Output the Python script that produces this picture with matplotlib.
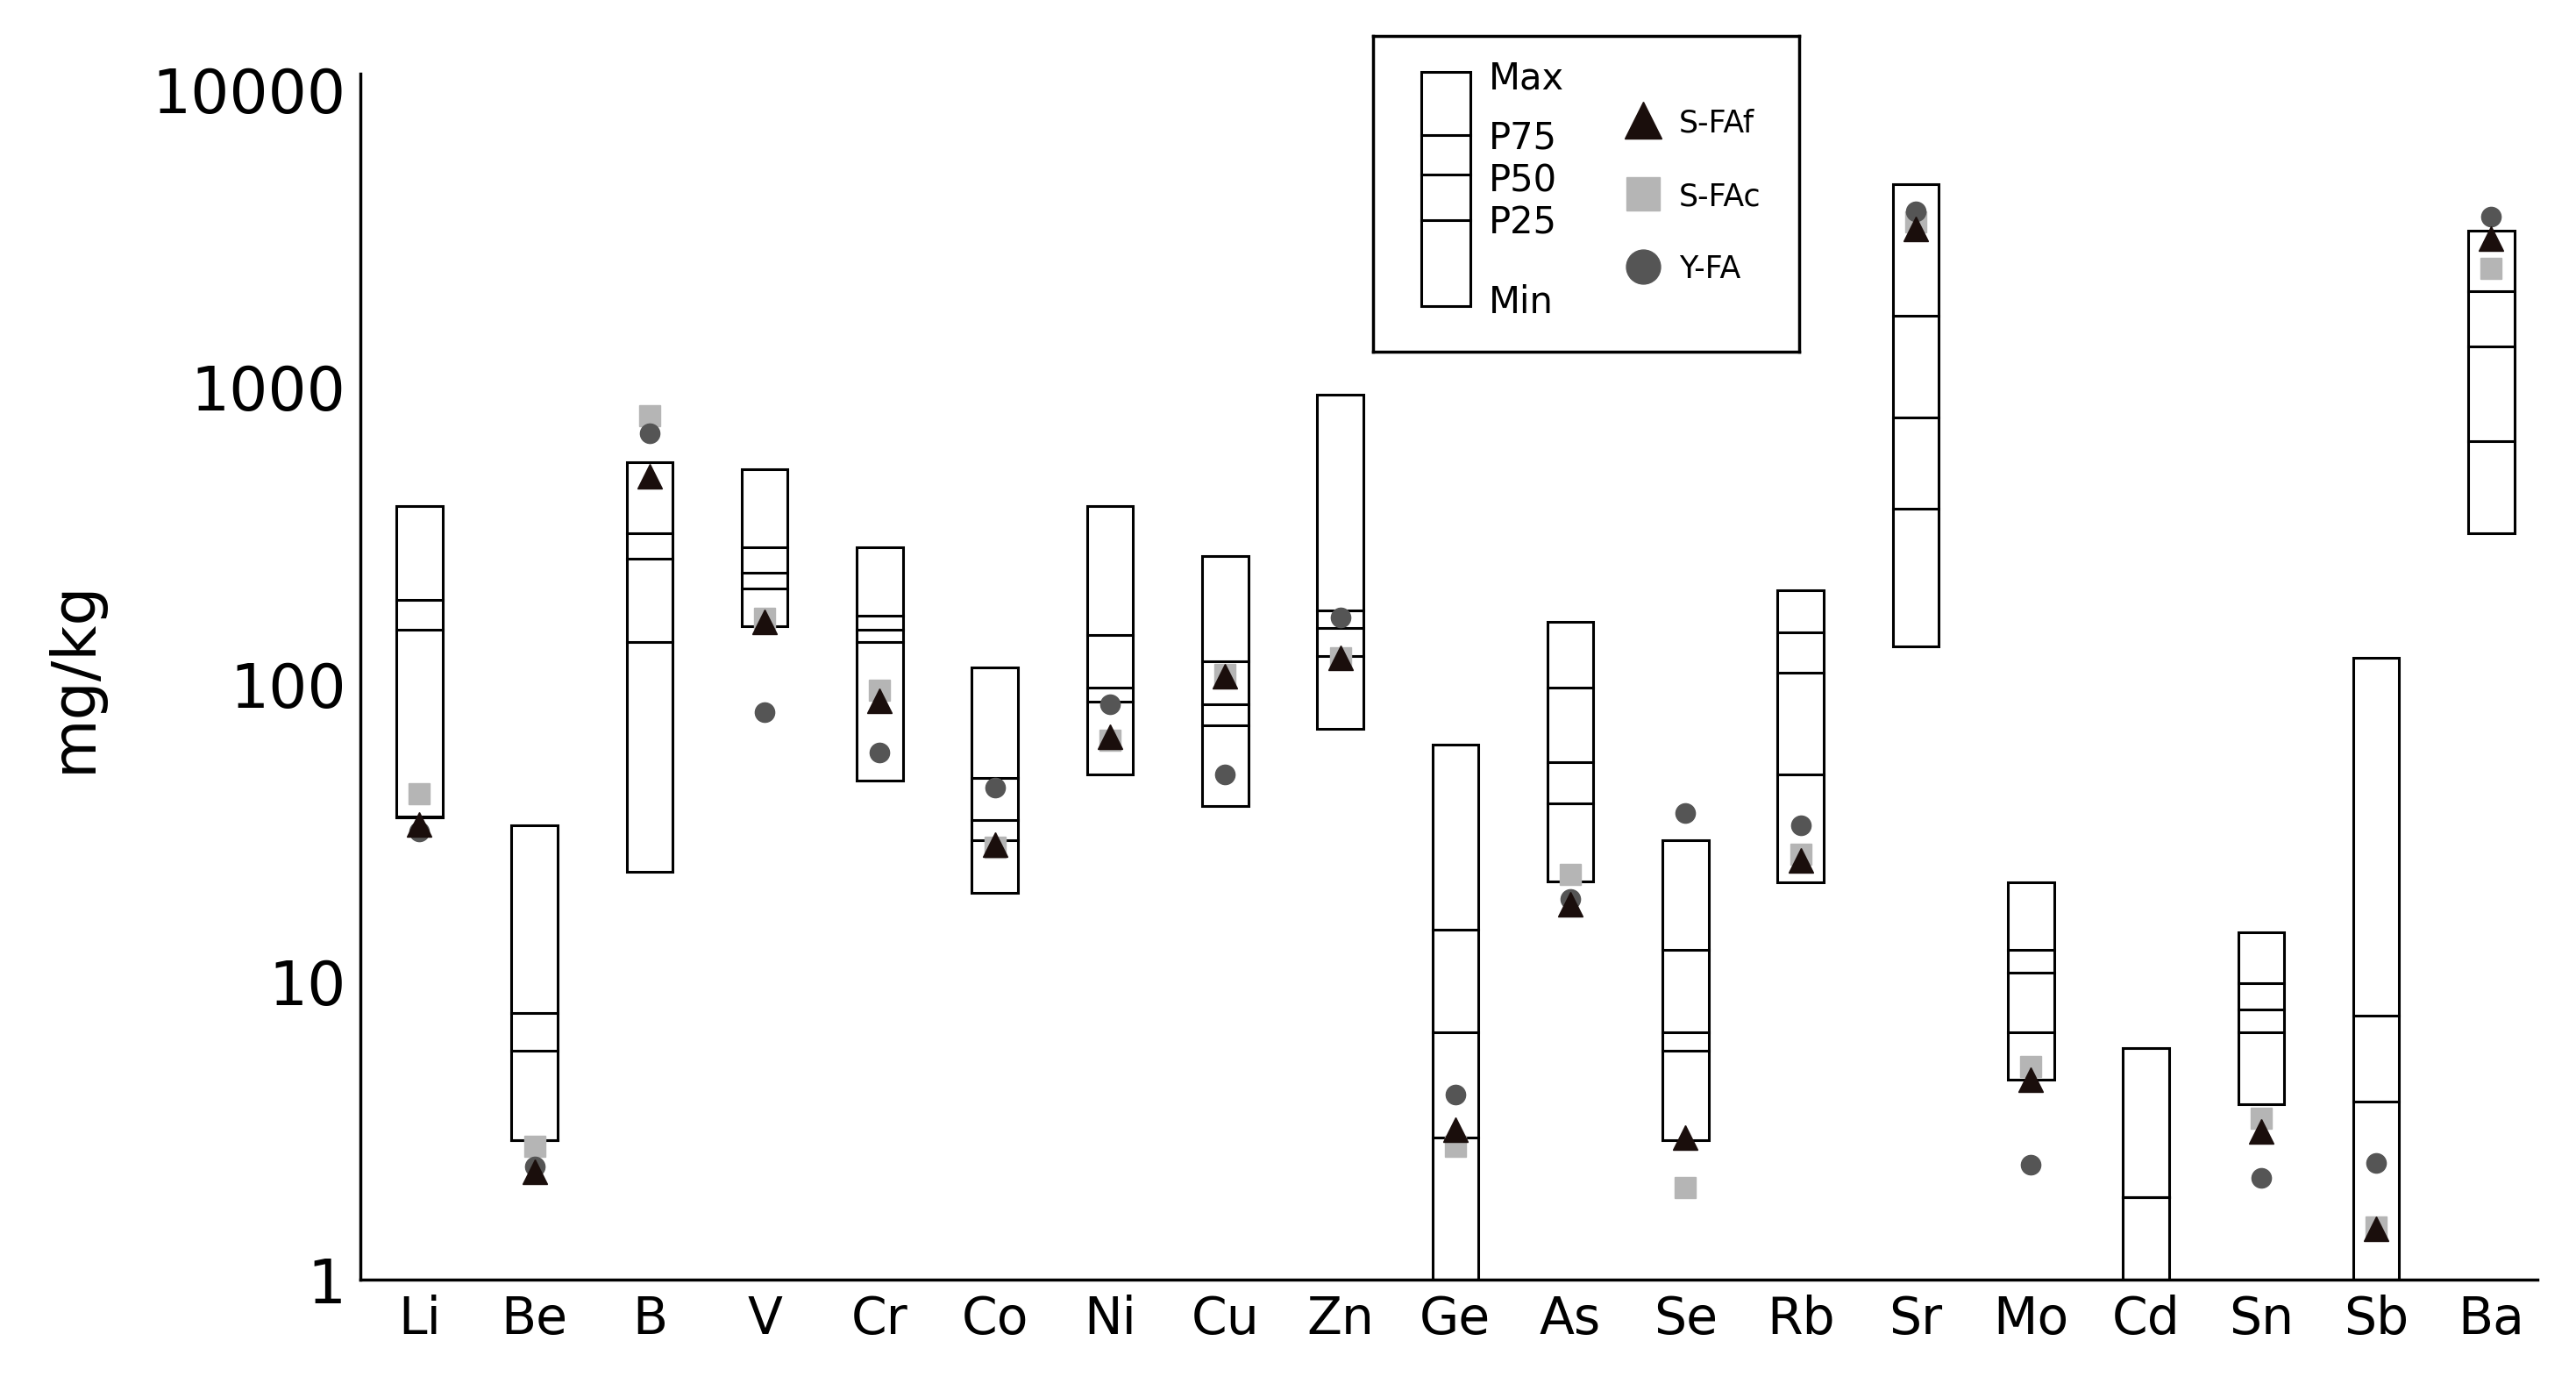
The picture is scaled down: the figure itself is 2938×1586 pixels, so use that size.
import numpy as np
import matplotlib.pyplot as plt
from matplotlib.patches import Rectangle

elements = ["Li", "Be", "B", "V", "Cr", "Co", "Ni", "Cu", "Zn", "Ge",
            "As", "Se", "Rb", "Sr", "Mo", "Cd", "Sn", "Sb", "Ba"]
v_max = [398, 33.6, 560, 530, 290, 114, 398, 270, 940, 63,
         163, 30, 207, 4800, 21.6, 6.0, 14.7, 123, 3350]
v_p75 = [192, 7.9, 323, 290, 171, 48.5, 147, 120, 178, 15,
         98, 12.8, 150, 1740, 12.8, 1.9, 9.9, 7.7, 2100]
v_p50 = [153, 5.9, 265, 237, 153, 35, 98, 86, 155, 6.8,
         55, 6.8, 110, 790, 10.8, 1.9, 8.1, 3.96, 1370]
v_p25 = [36, 2.95, 139, 210, 139, 30, 87.5, 73, 125, 3.0,
         40, 5.9, 50, 390, 6.8, 1.9, 6.8, 1.0, 660]
v_min = [35.8, 2.95, 23.5, 157, 47.5, 20, 50, 39, 71, 1.0,
         21.8, 2.95, 21.6, 134, 4.7, 1.0, 3.9, 1.0, 323]
s_faf = [34, 2.3, 500, 163, 88, 29, 67, 107, 123, 3.2,
         18.3, 3.0, 25.7, 3400, 4.7, np.nan, 3.15, 1.48, 3150]
s_fac = [43, 2.8, 800, 167, 96, 28.5, 65, 108, 123, 2.8,
         23, 2.04, 27, 3600, 5.2, np.nan, 3.5, 1.5, 2500]
y_fa = [32, 2.4, 700, 81, 59, 45, 86, 50, 168, 4.2,
        19, 37, 33.6, 3900, 2.44, np.nan, 2.2, 2.47, 3750]

c_tri = "#1a0e0c"
c_sq = "#b5b5b5"
c_circ = "#555555"
lw = 2.2

fig = plt.figure(figsize=(29.38, 15.86), dpi=100)
ax = fig.add_axes([0.14, 0.080, 0.845, 0.867])
x = np.arange(len(elements))
w = 0.4
for i in x:
    ax.add_patch(Rectangle((i - w / 2, v_min[i]), w, v_max[i] - v_min[i],
                           fill=False, edgecolor="black", lw=lw))
    for v in (v_p75[i], v_p50[i], v_p25[i]):
        ax.plot([i - w / 2, i + w / 2], [v, v], color="black", lw=lw)

ax.plot(x, s_fac, "s", color=c_sq, ms=17, ls="none")
ax.plot(x, y_fa, "o", color=c_circ, ms=16, ls="none")
ax.plot(x, s_faf, "^", color=c_tri, ms=20, ls="none")

ax.set_yscale("log")
ax.set_ylim(1, 11300)
ax.set_xlim(-0.51, 18.4)
ax.set_xticks(x)
ax.set_xticklabels(elements, fontsize=42)
ax.set_yticks([1, 10, 100, 1000, 10000])
ax.set_yticklabels(["1", "10", "100", "1000", "10000"], fontsize=50)
ax.minorticks_off()
ax.tick_params(length=0, pad=12)
ax.set_ylabel("mg/kg", fontsize=50, labelpad=40)
for s in ("top", "right"):
    ax.spines[s].set_visible(False)
for s in ("left", "bottom"):
    ax.spines[s].set_linewidth(2.5)

# legend drawn by hand
lg = fig.add_axes([836 / 1568, 1 - 214 / 846, 259 / 1568, 192 / 846])
lg.set_xlim(0, 259)
lg.set_ylim(192, 0)
lg.set_xticks([])
lg.set_yticks([])
for s in lg.spines.values():
    s.set_linewidth(2.5)
lg.add_patch(Rectangle((29, 22), 30, 142, fill=False, edgecolor="black", lw=lw))
for yy in (60, 84, 112):
    lg.plot([29, 59], [yy, yy], color="black", lw=lw)
for lab, yy in (("Max", 26), ("P75", 62), ("P50", 88), ("P25", 114), ("Min", 162)):
    lg.text(70, yy, lab, fontsize=30, va="center", ha="left")
lg.plot(164, 51, "^", color=c_tri, ms=30)
lg.plot(164, 96, "s", color=c_sq, ms=28)
lg.plot(164, 140, "o", color=c_circ, ms=28)
for lab, yy in (("S-FAf", 53), ("S-FAc", 98), ("Y-FA", 142)):
    lg.text(186, yy, lab, fontsize=25, va="center", ha="left")

fig.savefig("out.png", dpi=100)
